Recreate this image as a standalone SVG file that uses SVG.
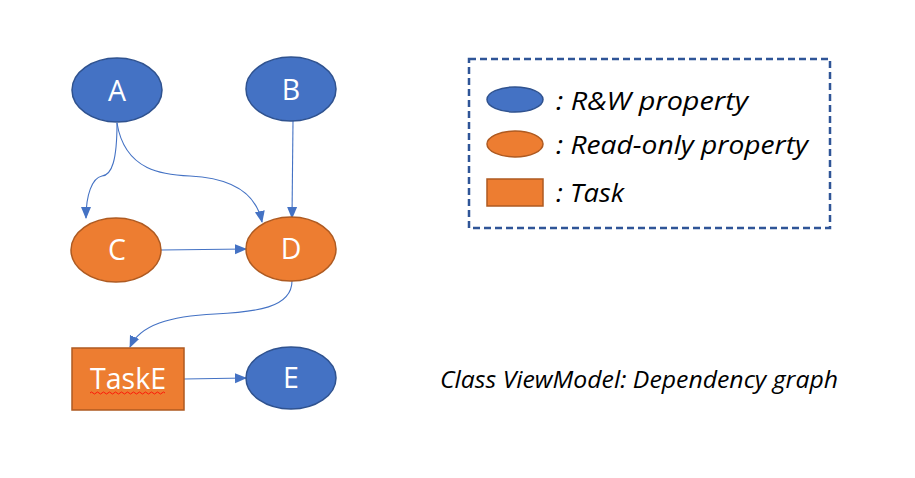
<svg xmlns="http://www.w3.org/2000/svg" width="915" height="478" viewBox="0 0 915 478">
<style>
.rw{fill:#4472C4;stroke:#2F528F;stroke-width:1.5}
.ro{fill:#ED7D31;stroke:#AE5A21;stroke-width:1.5}
.lbl{font-family:"Open Sans","Noto Sans",sans-serif;font-size:28.5px;fill:#FFFFFF;text-anchor:middle}
.leg{font-family:"Open Sans","Noto Sans",sans-serif;font-size:26px;font-style:italic;fill:#000000}
.cap{font-family:"Open Sans","Noto Sans",sans-serif;font-size:23.5px;font-style:italic;fill:#000000}
.edge{fill:none;stroke:#4472C4;stroke-width:1.1;marker-end:url(#arr)}
</style>
<defs>
<marker id="arr" markerUnits="userSpaceOnUse" markerWidth="12" markerHeight="12" viewBox="0 0 12 12" refX="11" refY="6" orient="auto">
<path d="M0,1 L12,6 L0,11 Z" fill="#4472C4"/>
</marker>
</defs>
<rect width="915" height="478" fill="#FFFFFF"/>
<g id="edges">
<path class="edge" d="M117,123 C117,160 112,175 102,176 C92,178 86,195 86,218"/>
<path class="edge" d="M117,123 C125,172 165,175 190,176 C230,178 256,192 262,222"/>
<path class="edge" d="M293,121 L292,218"/>
<path class="edge" d="M161,250 L246,249"/>
<path class="edge" d="M292,281 C292,308 255,312 215,314 C170,316 140,325 130,347"/>
<path class="edge" d="M184,379 L246,378"/>
</g>
<g id="nodeA"><ellipse class="rw" cx="117" cy="90" rx="45" ry="32"/><text class="lbl" x="117" y="101">A</text></g>
<g id="nodeB"><ellipse class="rw" cx="291" cy="89" rx="45" ry="32"/><text class="lbl" x="291" y="100">B</text></g>
<g id="nodeC"><ellipse class="ro" cx="116" cy="250" rx="45" ry="32"/><text class="lbl" x="117" y="260">C</text></g>
<g id="nodeD"><ellipse class="ro" cx="291" cy="249" rx="45" ry="32"/><text class="lbl" x="291" y="259">D</text></g>
<g id="nodeTaskE"><rect class="ro" x="72" y="348" width="112" height="62"/><text class="lbl" x="128" y="389" textLength="76" lengthAdjust="spacingAndGlyphs">TaskE</text>
<path d="M90,393 q1.5,-2 3,0 t3,0 t3,0 t3,0 t3,0 t3,0 t3,0 t3,0 t3,0 t3,0 t3,0 t3,0 t3,0 t3,0 t3,0 t3,0 t3,0 t3,0 t3,0 t3,0 t3,0 t3,0 t3,0 t3,0 t3,0" fill="none" stroke="#FF0000" stroke-width="0.8"/></g>
<g id="nodeE"><ellipse class="rw" cx="291" cy="378" rx="45" ry="31"/><text class="lbl" x="291" y="388">E</text></g>
<g id="legend">
<rect x="469" y="59" width="361" height="169" fill="none" stroke="#2F5597" stroke-width="2.5" stroke-dasharray="7,4"/>
<ellipse class="rw" cx="515" cy="99.5" rx="28" ry="12.5"/>
<ellipse class="ro" cx="515" cy="144" rx="28" ry="13"/>
<rect class="ro" x="487" y="179" width="56" height="27"/>
<text class="leg" x="556" y="110" textLength="192" lengthAdjust="spacingAndGlyphs">: R&amp;W property</text>
<text class="leg" x="556" y="154" textLength="252" lengthAdjust="spacingAndGlyphs">: Read-only property</text>
<text class="leg" x="556" y="202" textLength="68" lengthAdjust="spacingAndGlyphs">: Task</text>
</g>
<g id="caption"><text class="cap" x="440" y="388" textLength="398" lengthAdjust="spacingAndGlyphs">Class ViewModel: Dependency graph</text></g>
</svg>
